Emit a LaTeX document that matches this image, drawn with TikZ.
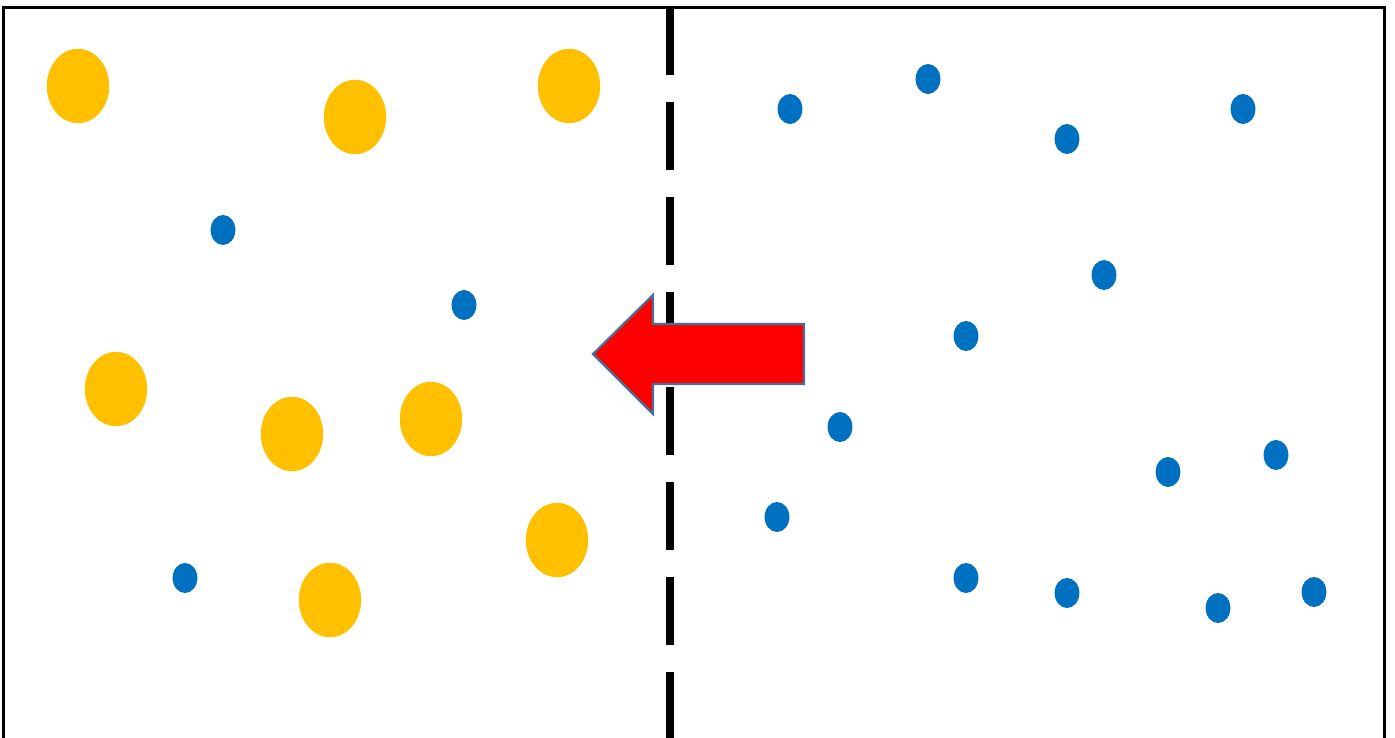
\documentclass[tikz,border=0pt]{standalone}
\definecolor{gold}{HTML}{FFC000}
\definecolor{bluedot}{HTML}{0070C0}
\definecolor{arrowedge}{HTML}{41719C}
\tikzset{
  bigdot/.style={fill=gold},
  smalldot/.style={fill=bluedot},
  frameline/.style={draw=black, line width=3pt},
  membrane/.style={draw=black, line width=8pt, dash pattern=on 68pt off 27pt},
  flowarrow/.style={fill=red, draw=arrowedge, line width=2.2pt, line join=miter}
}
\begin{document}
\begin{tikzpicture}[x=1pt,y=-1pt]
\useasboundingbox (0,0) rectangle (1395,738);
% frame (open at the bottom)
\draw[frameline] (3.5,745) -- (3.5,7.5) -- (1384.5,7.5) -- (1384.5,745);
% dashed membrane
\coordinate (mtop) at (670,7);
\coordinate (mbot) at (670,745);
\draw[membrane] (mtop) -- (mbot);
% large yellow particles
\foreach \x/\y in {78/86, 355/117, 569/86, 116/389, 292/434, 431/419, 557/540, 330/600}
  \fill[bigdot] (\x,\y) ellipse [x radius=31.2, y radius=37.2];
% small blue particles
\foreach \x/\y in {223/230, 464/305, 185/578,
                   790/109, 928/79, 1067/139, 1243/109, 1104/275, 966/336,
                   840/427, 1168/472, 1276/455, 777/517, 966/578, 1067/593,
                   1218/608, 1314/592}
  \fill[smalldot] (\x,\y) ellipse [x radius=12.4, y radius=15];
% arrow
\draw[flowarrow] (593,354) -- (653,295) -- (653,324) -- (804,324) -- (804,384)
  -- (653,384) -- (653,414) -- cycle;
\end{tikzpicture}
\end{document}
